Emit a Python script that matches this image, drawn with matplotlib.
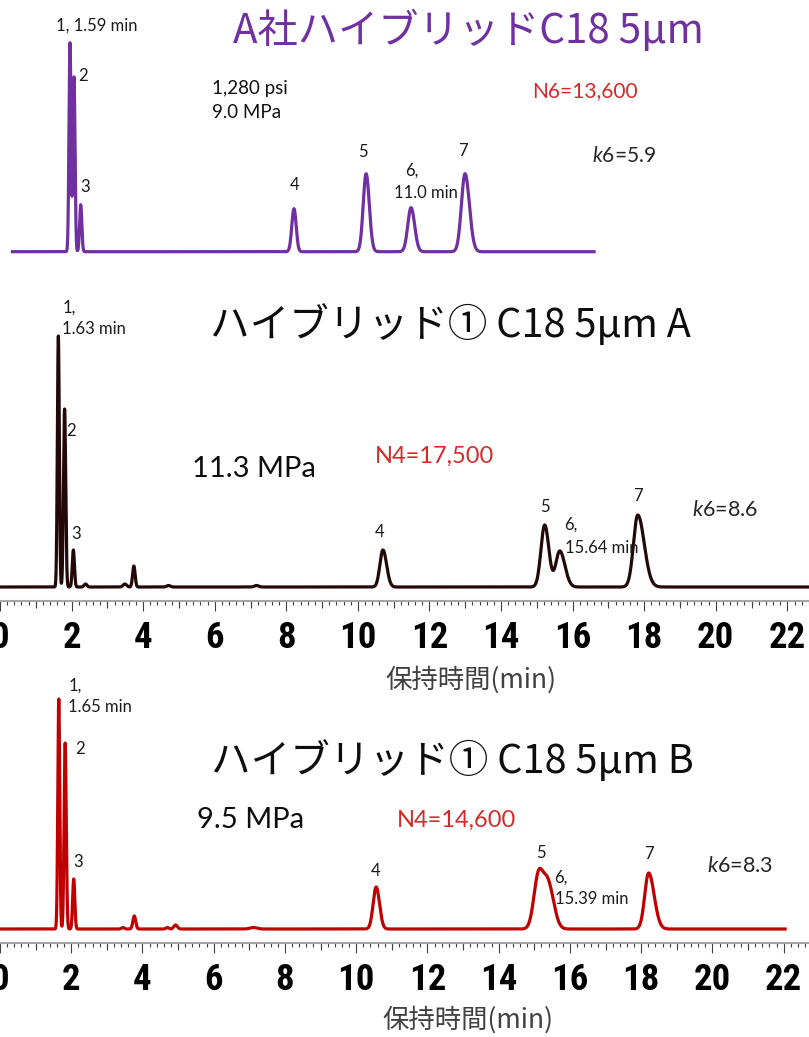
import numpy as np
import matplotlib.pyplot as plt
from matplotlib import font_manager as fm
from matplotlib.ticker import MultipleLocator

plt.rcParams['mathtext.fontset'] = 'custom'
plt.rcParams['mathtext.it'] = 'Lato:italic'
plt.rcParams['mathtext.rm'] = 'Lato'

# peak tables: retention time (min), height (a.u.), sigma (min), tailing factor
top_rt = [1.59, 1.70, 1.885, 7.77, 9.76, 11.0, 12.49]
top_h = [209, 175, 47, 43, 78, 44, 78]
top_w = [0.028, 0.028, 0.03, 0.06, 0.08, 0.09, 0.10]
top_tail = [1.0, 1.0, 1.0, 1.0, 1.1, 1.1, 1.2]

mid_rt = [1.63, 1.805, 2.05, 2.39, 3.49, 3.74, 4.71, 7.17, 10.70, 15.22, 15.64, 17.82]
mid_h = [251, 178, 37, 3, 3, 21, 1.5, 1.5, 37, 62, 36, 72]
mid_w = [0.027, 0.03, 0.03, 0.04, 0.05, 0.035, 0.05, 0.06, 0.085, 0.105, 0.11, 0.12]
mid_tail = [1.0, 1.0, 1.0, 1.0, 1.0, 1.0, 1.0, 1.0, 1.2, 1.1, 1.3, 1.5]

bot_rt = [1.65, 1.83, 2.07, 3.45, 3.77, 4.70, 4.93, 7.12, 10.56, 15.12, 15.39, 18.21]
bot_h = [230, 186, 50, 1.5, 13, 1.5, 4, 1.5, 42, 54, 44, 56]
bot_w = [0.027, 0.03, 0.03, 0.04, 0.04, 0.04, 0.05, 0.10, 0.085, 0.13, 0.13, 0.11]
bot_tail = [1.0, 1.0, 1.0, 1.0, 1.0, 1.0, 1.0, 1.0, 1.1, 1.0, 1.2, 1.4]

top_end, mid_end, bot_end = 16.05, 22.6, 22.04

tick_major = np.arange(0, 23, 2)
tick_mid = np.arange(1, 23, 2)

W, H = 809, 1037
PURPLE = '#7030a0'
DARK = '#230808'
RED = '#c00000'
NRED = '#d42a2a'
LATIN = ['Lato', 'Noto Sans CJK JP']
JP = ['Noto Sans CJK JP', 'DejaVu Sans']


def narrow_bold():
    # a narrow bold face for the time axis numbers
    fonts = fm.fontManager.ttflist
    is_bold = lambda f: str(f.weight) in ('700', 'bold') and f.style == 'normal'
    for name in ['Liberation Sans Narrow', 'Noto Sans Condensed', 'DejaVu Sans Condensed',
                 'Roboto Condensed', 'Open Sans Condensed']:
        for f in fonts:
            if f.name == name and is_bold(f):
                return fm.FontProperties(fname=f.fname)
    for stretch in ['condensed', 'semi-condensed']:
        for f in fonts:
            if str(f.stretch) == stretch and is_bold(f):
                return fm.FontProperties(fname=f.fname)
    return fm.FontProperties(family='Roboto', weight='bold')


TICK_FONT = narrow_bold()
TICK_FONT.set_size(26.5)


def trace(t, rt, h, w, tail):
    y = np.zeros_like(t)
    for r, a, s, k in zip(rt, h, w, tail):
        sig = np.where(t < r, s, s * k)
        y += a * np.exp(-0.5 * ((t - r) / sig) ** 2)
    return y


fig = plt.figure(figsize=(W / 100, H / 100), dpi=100)


def px_axes(x0, y0, x1, y1):
    return fig.add_axes([x0 / W, 1 - y1 / H, (x1 - x0) / W, (y1 - y0) / H])


def ftext(x, y, s, **kw):
    fig.text(x / W, 1 - y / H, s, **kw)


def time_axis(ax):
    for side in ['top', 'left', 'right']:
        ax.spines[side].set_visible(False)
    ax.spines['bottom'].set_color('#a6a6a6')
    ax.spines['bottom'].set_linewidth(1.5)
    ax.set_yticks([])
    ax.set_xticks(tick_major)
    ax.xaxis.set_minor_locator(MultipleLocator(0.2))
    ax.tick_params(axis='x', which='major', length=7.5, width=0.8, color='#404040', pad=6)
    ax.tick_params(axis='x', which='minor', length=3, width=0.8, color='#404040')
    for lab in ax.get_xticklabels():
        lab.set_fontproperties(TICK_FONT)
    sec = ax.secondary_xaxis('bottom')
    sec.spines['bottom'].set_visible(False)
    sec.set_xticks(tick_mid)
    sec.tick_params(axis='x', length=5, width=0.8, color='#404040', labelbottom=False)
    ax.patch.set_alpha(0)


def peak_labels(ax, rt, h, labels):
    for i, s, dx, dy, ha in labels:
        ax.annotate(s, xy=(rt[i], h[i]), xytext=(dx, dy), textcoords='offset pixels',
                    ha=ha, va='center', fontsize=12, family=LATIN, color='#1a1a1a',
                    annotation_clip=False)


# ---- top chromatogram (no time axis)
ax1 = px_axes(12.4, 20, 12.4 + top_end * 36.24, 261.7)
t1 = np.linspace(0, top_end, 5000)
ax1.plot(t1, trace(t1, top_rt, top_h, top_w, top_tail), color=PURPLE, lw=2.3,
         clip_on=False, solid_joinstyle='round')
ax1.set_xlim(0, top_end)
ax1.set_ylim(-10, 231.7)
ax1.axis('off')
peak_labels(ax1, top_rt, top_h, [
    (0, '1, 1.59 min', 26.5, 16.7, 'center'),
    (1, '2', 9, 1, 'center'),
    (2, '3', 4.8, 18, 'center'),
    (3, '4', 1, 24, 'center'),
    (4, '5', -3.3, 21.5, 'center'),
    (5, '6,', -6, 37.3, 'left'),
    (5, '11.0 min', -17, 14.3, 'left'),
    (6, '7', -2.5, 22.3, 'center'),
])

# ---- middle chromatogram
ax2 = px_axes(0, 290, W, 601)
t2 = np.linspace(0, mid_end, 8000)
ax2.plot(t2, trace(t2, mid_rt, mid_h, mid_w, mid_tail), color=DARK, lw=2.3,
         clip_on=False)
ax2.set_xlim(2.5 / 35.9, 811.5 / 35.9)
ax2.set_ylim(-14, 297)
time_axis(ax2)
ax2.set_xlabel('保持時間(min)', family=JP, fontsize=19, color='#404040')
ax2.xaxis.set_label_coords(471 / W, -(680 - 601) / 311)
ax2.xaxis.label.set_va('center')
peak_labels(ax2, mid_rt, mid_h, [
    (0, '1,', 4, 28.5, 'left'),
    (0, '1.63 min', 4, 7, 'left'),
    (1, '2', 6.7, -21.7, 'center'),
    (2, '3', 3, 16, 'center'),
    (8, '4', -3, 18, 'center'),
    (9, '5', 0, 17.5, 'center'),
    (10, '6,', 4.7, 26.7, 'left'),
    (10, '15.64 min', 5.7, 3.2, 'left'),
    (11, '7', 0, 19, 'center'),
])

# ---- bottom chromatogram
ax3 = px_axes(0, 670, W, 943)
t3 = np.linspace(0, bot_end, 8000)
ax3.plot(t3, trace(t3, bot_rt, bot_h, bot_w, bot_tail), color=RED, lw=2.3,
         clip_on=False)
ax3.set_xlim(5.2 / 35.85, 814.2 / 35.85)
ax3.set_ylim(-14, 259)
time_axis(ax3)
ax3.set_xlabel('保持時間(min)', family=JP, fontsize=19, color='#404040')
ax3.xaxis.set_label_coords(468 / W, -(1020 - 943) / 273)
ax3.xaxis.label.set_va('center')
peak_labels(ax3, bot_rt, bot_h, [
    (0, '1,', 9.4, 13.3, 'left'),
    (0, '1.65 min', 9.4, -8.2, 'left'),
    (1, '2', 14.7, -5.8, 'center'),
    (2, '3', 4, 17, 'center'),
    (8, '4', -0.6, 15.7, 'center'),
    (9, '5', 2.7, 22, 'center'),
    (10, '6,', 6.2, 7.5, 'left'),
    (10, '15.39 min', 6.8, -14, 'left'),
    (11, '7', 0, 19, 'center'),
])

# ---- titles and conditions
ftext(468, 43.3, 'A社ハイブリッドC18 5μm', ha='center', va='baseline',
      family=JP, fontsize=29, color=PURPLE)
ftext(211.7, 94.3, '1,280 psi', va='baseline', family=LATIN, fontsize=13.5, color='#111111')
ftext(211.7, 118.3, '9.0 MPa', va='baseline', family=LATIN, fontsize=13.5, color='#111111')
ftext(531.7, 96.7, 'N6=13,600', va='baseline', family=LATIN, fontsize=15, color=NRED)
ftext(591.7, 162.3, r'$\mathit{k6}$=5.9', va='baseline', family=LATIN, fontsize=15, color='#262626')

ftext(450.5, 336.7, 'ハイブリッド① C18 5μm A', ha='center', va='baseline',
      family=JP, fontsize=28.5, color='#0d0d0d')
ftext(191.7, 476.7, '11.3 MPa', va='baseline', family=LATIN, fontsize=21, color='#0d0d0d')
ftext(375, 463.3, 'N4=17,500', va='baseline', family=LATIN, fontsize=17, color=NRED)
ftext(691.7, 515.7, r'$\mathit{k6}$=8.6', va='baseline', family=LATIN, fontsize=15.5, color='#262626')

ftext(452.5, 773.3, 'ハイブリッド① C18 5μm B', ha='center', va='baseline',
      family=JP, fontsize=28.5, color='#0d0d0d')
ftext(196.7, 828.3, '9.5 MPa', va='baseline', family=LATIN, fontsize=21, color='#0d0d0d')
ftext(397, 826.7, 'N4=14,600', va='baseline', family=LATIN, fontsize=17, color=NRED)
ftext(706.7, 871.7, r'$\mathit{k6}$=8.3', va='baseline', family=LATIN, fontsize=15.5, color='#262626')

fig.savefig('out.png', dpi=100)
